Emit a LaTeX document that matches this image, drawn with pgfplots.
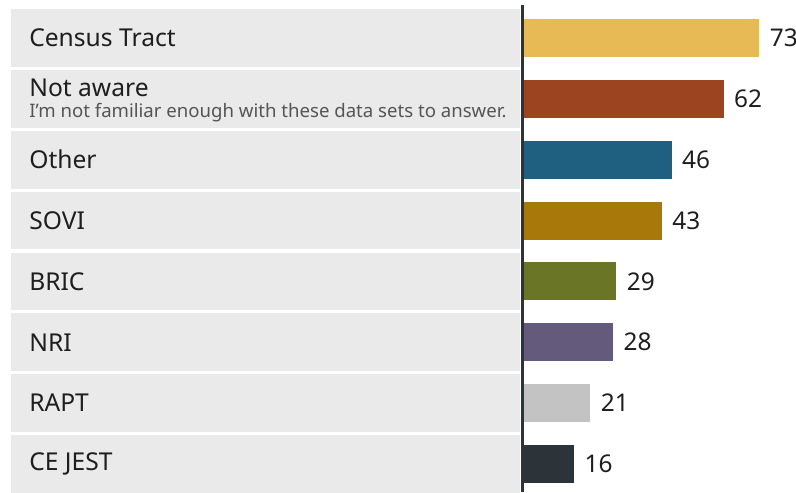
\documentclass[border=0pt]{standalone}
\usepackage{pgfplots}
\pgfplotsset{compat=1.18}
\usepackage{fontspec}
\setmainfont{Noto Sans}
\definecolor{boxc}{HTML}{E9EAE9}
\definecolor{axisc}{HTML}{2C3339}
\definecolor{labc}{HTML}{1E1E1E}
\definecolor{subc}{HTML}{555555}
\definecolor{c1}{HTML}{E8BA56}
\definecolor{c2}{HTML}{9C4320}
\definecolor{c3}{HTML}{1F5F7F}
\definecolor{c4}{HTML}{A8780A}
\definecolor{c5}{HTML}{6B7526}
\definecolor{c6}{HTML}{645A7C}
\definecolor{c7}{HTML}{C3C3C4}
\definecolor{c8}{HTML}{2C3339}
\begin{document}
\begin{tikzpicture}
\begin{axis}[
  width=398pt, height=246pt, scale only axis,
  xmin=-160.6, xmax=84.3, ymin=-0.624, ymax=7.46, y dir=reverse,
  hide axis, xbar, bar width=0.624, bar shift=0pt,
  clip=false,
  /pgf/number format/assume math mode=true,
  nodes near coords,
  nodes near coords style={font=\fontsize{12.2}{14}\selectfont, text=labc, anchor=west, xshift=1.8pt},
  point meta=x,
]
\pgfplotsinvokeforeach{0,...,7}{
  \fill[boxc] (axis cs:-157.2,#1-0.475) rectangle (axis cs:-0.6,#1+0.475);
}
\addplot[fill=c1, draw=none] coordinates {(73,0)};
\addplot[fill=c2, draw=none] coordinates {(62,1)};
\addplot[fill=c3, draw=none] coordinates {(46,2)};
\addplot[fill=c4, draw=none] coordinates {(43,3)};
\addplot[fill=c5, draw=none] coordinates {(29,4)};
\addplot[fill=c6, draw=none] coordinates {(28,5)};
\addplot[fill=c7, draw=none] coordinates {(21,6)};
\addplot[fill=c8, draw=none] coordinates {(16,7)};
\draw[axisc, line width=1.5pt] (axis cs:0,-0.54) -- (axis cs:0,7.46);
\tikzset{lab/.style={anchor=west, inner sep=0pt, text=labc, font=\fontsize{12.3}{14}\selectfont}}
\node[lab] at (axis cs:-151.7,0) {Census Tract};
\node[lab] at (axis cs:-151.7,0.82) {Not aware};
\node[anchor=west, inner sep=0pt, text=subc, font=\fontsize{9.3}{11}\selectfont] at (axis cs:-151.7,1.22) {I’m not familiar enough with these data sets to answer.};
\node[lab] at (axis cs:-151.7,2) {Other};
\node[lab] at (axis cs:-151.7,3) {SOVI};
\node[lab] at (axis cs:-151.7,4) {BRIC};
\node[lab] at (axis cs:-151.7,5) {NRI};
\node[lab] at (axis cs:-151.7,6) {RAPT};
\node[lab] at (axis cs:-151.7,7) {CE JEST};
\end{axis}
\pgfresetboundingbox
\path[use as bounding box] (current axis.south west) rectangle (current axis.north east);
\end{tikzpicture}
\end{document}
